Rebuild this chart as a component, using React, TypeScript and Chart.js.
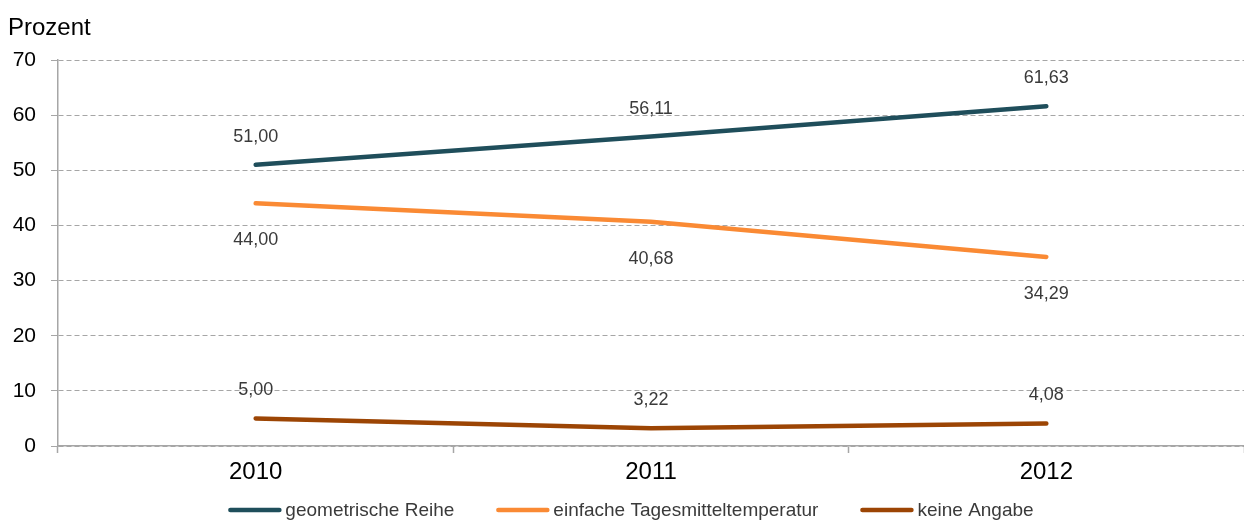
import React, { useEffect, useRef } from "react";
import { Chart, registerables } from "chart.js";

Chart.register(...registerables);

const categories = ["2010", "2011", "2012"];
const seriesNames = ["geometrische Reihe", "einfache Tagesmitteltemperatur", "keine Angabe"];
const geometrischeReihe = [51.0, 56.11, 61.63];
const einfacheTagesmittel = [44.0, 40.68, 34.29];
const keineAngabe = [5.0, 3.22, 4.08];
const seriesColors = ["#1f4e5b", "#fa8a34", "#9c4504"];
const labelPlacement = ["above", "below", "above"];
const yMin = 0;
const yMax = 70;
const yStep = 10;
const yTitle = "Prozent";

const FONT = '"Liberation Sans", Arial, sans-serif';

const fmt = (v: number) => v.toFixed(2).replace(".", ",");

const overlayPlugin = {
  id: "overlay",
  afterDatasetsDraw(chart: any) {
    const ctx = chart.ctx;
    ctx.save();
    ctx.font = `18px ${FONT}`;
    ctx.fillStyle = "#3a3a3a";
    ctx.textAlign = "center";
    ctx.textBaseline = "middle";
    chart.data.datasets.forEach((ds: any, di: number) => {
      const meta = chart.getDatasetMeta(di);
      meta.data.forEach((pt: any, i: number) => {
        const off = labelPlacement[di] === "above" ? -28 : 37;
        ctx.fillText(fmt(ds.data[i]), pt.x, pt.y + off);
      });
    });
    ctx.restore();
  },
  afterDraw(chart: any) {
    const ctx = chart.ctx;
    ctx.save();
    ctx.font = `24px ${FONT}`;
    ctx.fillStyle = "#000";
    ctx.textAlign = "left";
    ctx.textBaseline = "alphabetic";
    ctx.fillText(yTitle, 8, 35);
    // legend
    ctx.font = `19px ${FONT}`;
    const sample = 53;
    const gapText = 4;
    const gapItem = 42;
    const widths = seriesNames.map((n) => sample + gapText + ctx.measureText(n).width);
    const total = widths.reduce((a, b) => a + b, 0) + gapItem * (seriesNames.length - 1);
    let x = 631 - total / 2;
    const y = 510;
    seriesNames.forEach((n, i) => {
      ctx.strokeStyle = seriesColors[i];
      ctx.lineWidth = 4.5;
      ctx.lineCap = "round";
      ctx.beginPath();
      ctx.moveTo(x + 2, y);
      ctx.lineTo(x + sample - 2, y);
      ctx.stroke();
      ctx.fillStyle = "#3a3a3a";
      ctx.textAlign = "left";
      ctx.textBaseline = "middle";
      ctx.fillText(n, x + sample + gapText, y + 1);
      x += widths[i] + gapItem;
    });
    ctx.restore();
  },
};

export default function App() {
  const ref = useRef<HTMLCanvasElement | null>(null);
  useEffect(() => {
    if (!ref.current) return;
    const data = [geometrischeReihe, einfacheTagesmittel, keineAngabe];
    const chart = new Chart(ref.current, {
      type: "line",
      data: {
        labels: categories,
        datasets: seriesNames.map((name, i) => ({
          label: name,
          data: data[i],
          borderColor: seriesColors[i],
          backgroundColor: seriesColors[i],
          borderWidth: 4.5,
          borderCapStyle: "round",
          pointRadius: 0,
          pointHoverRadius: 0,
          tension: 0,
          fill: false,
        })),
      },
      options: {
        responsive: false,
        animation: false,
        events: [],
        layout: { padding: { top: 60, left: 0, right: 0, bottom: 0 } },
        plugins: {
          legend: { display: false },
          tooltip: { enabled: false },
          title: { display: false },
        },
        scales: {
          x: {
            type: "category",
            offset: true,
            afterFit: (s: any) => {
              s.height = 75;
            },
            border: { display: true, color: "#a6a6a6", width: 1.5 },
            grid: {
              offset: true,
              drawOnChartArea: false,
              drawTicks: true,
              tickLength: 7,
              tickColor: "#a6a6a6",
              tickWidth: 1.5,
            },
            ticks: {
              color: "#000",
              font: { family: FONT, size: 24 },
              padding: 5,
              maxRotation: 0,
            },
          },
          y: {
            min: yMin,
            max: yMax,
            afterFit: (s: any) => {
              s.width = 58;
            },
            border: { display: true, color: "#a6a6a6", width: 1.5, dash: [5, 3] },
            grid: {
              color: "#a6a6a6",
              lineWidth: 1,
              drawTicks: true,
              tickLength: 7,
              tickColor: "#a6a6a6",
              tickWidth: 1,
              tickBorderDash: [],
            },
            ticks: {
              stepSize: yStep,
              color: "#000",
              font: { family: FONT, size: 21 },
              padding: 15,
            },
          },
        },
      },
      plugins: [overlayPlugin],
    } as any);
    return () => chart.destroy();
  }, []);
  return (
    <div style={{ position: "absolute", left: 0, top: 0, width: 1244, height: 521 }}>
      <canvas ref={ref} width={1244} height={521} style={{ display: "block" }} />
    </div>
  );
}
